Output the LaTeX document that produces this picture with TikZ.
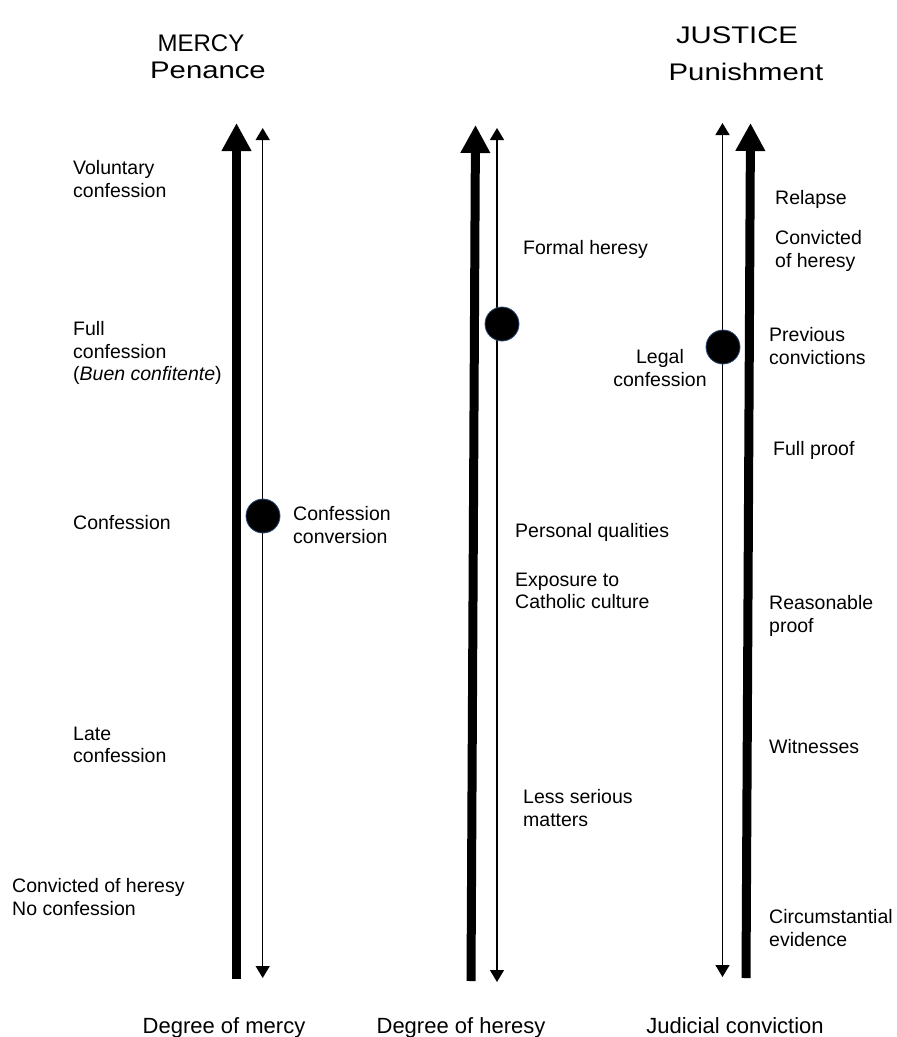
\documentclass[tikz,border=0pt]{standalone}
\usepackage{fontspec}
\setmainfont{Liberation Sans}
\newfontfamily\headfont[FakeStretch=1.22]{Liberation Sans}
\usetikzlibrary{arrows.meta}
\definecolor{rimblue}{HTML}{2B4A78}

\begin{document}
\begin{tikzpicture}[x=1pt,y={(0pt,-1pt)},
			lbl/.style={anchor=west,align=left,inner sep=0pt,font=\fontsize{19.5}{22.5}\selectfont},
			head/.style={anchor=base,inner sep=0pt,font=\headfont\fontsize{24}{28}\selectfont},
			foot/.style={anchor=base,inner sep=0pt,font=\fontsize{22}{26}\selectfont},
			bigarrow/.style={line width=9pt,-{Triangle[width=28pt,length=28pt]}},
			smallarrow/.style={line width=1.3pt,{Triangle[width=14pt,length=12pt]}-{Triangle[width=14pt,length=12pt]}},
			dot/.style={circle,fill=black,draw=rimblue,line width=0.8pt,minimum size=34pt,inner sep=0pt}]
			\useasboundingbox (0,0) rectangle (897,1037);

			\node[head,font=\fontsize{24}{28}\selectfont] (mercy) at (201,51) {MERCY};
			\node[head] (penance) at (208,78) {Penance};
			\node[head] (justice) at (737,43) {JUSTICE};
			\node[head] (punish) at (746,80) {Punishment};

			\coordinate (m bot) at (236.5,979);
			\coordinate (m top) at (236.5,123);
			\coordinate (m lo) at (262.7,978);
			\coordinate (m hi) at (262.7,128);
			\coordinate (h bot) at (471,981);
			\coordinate (h top) at (475.5,125);
			\coordinate (h lo) at (497,982);
			\coordinate (h hi) at (497,128);
			\coordinate (j bot) at (746,978);
			\coordinate (j top) at (750.5,123);
			\coordinate (j lo) at (722.5,977);
			\coordinate (j hi) at (722.5,123);

			\draw[bigarrow] (m bot) -- (m top);
			\draw[smallarrow] (m lo) -- (m hi);
			\draw[bigarrow] (h bot) -- (h top);
			\draw[smallarrow] (h lo) -- (h hi);
			\draw[bigarrow] (j bot) -- (j top);
			\draw[smallarrow] (j lo) -- (j hi);

			\node[dot] (m dot) at (263,516) {};
			\node[dot] (h dot) at (502,324) {};
			\node[dot] (j dot) at (723,347) {};

			\node[lbl] (vol) at (73,179) {Voluntary\\confession};
			\node[lbl] (full) at (73,353) {Full\\confession\\(\textit{Buen confitente})};
			\node[lbl] (conf) at (73,523) {Confession};
			\node[lbl] (late) at (73,745) {Late\\confession};
			\node[lbl] (noconf) at (12,897) {Convicted of heresy\\No confession};
			\node[lbl] (convers) at (293,525) {Confession\\conversion};

			\node[lbl] (formal) at (523,249) {Formal heresy};
			\node[lbl] (qual) at (515,532) {Personal qualities};
			\node[lbl] (expo) at (515,591) {Exposure to\\Catholic culture};
			\node[lbl] (less) at (523,808) {Less serious\\matters};

			\node[lbl,anchor=center,align=center] (legal) at (660,368) {Legal\\confession};
			\node[lbl] (relapse) at (775,199) {Relapse};
			\node[lbl] (convict) at (775,251) {Convicted\\of heresy};
			\node[lbl] (prev) at (769,346) {Previous\\convictions};
			\node[lbl] (fproof) at (773,450) {Full proof};
			\node[lbl] (rproof) at (769,616) {Reasonable\\proof};
			\node[lbl] (wit) at (769,747) {Witnesses};
			\node[lbl] (circ) at (769,928) {Circumstantial\\evidence};

			\node[foot] (dmercy) at (224,1033) {Degree of mercy};
			\node[foot] (dheresy) at (461,1033) {Degree of heresy};
			\node[foot] (jconv) at (735,1033) {Judicial conviction};
			\end{tikzpicture}
\end{document}
